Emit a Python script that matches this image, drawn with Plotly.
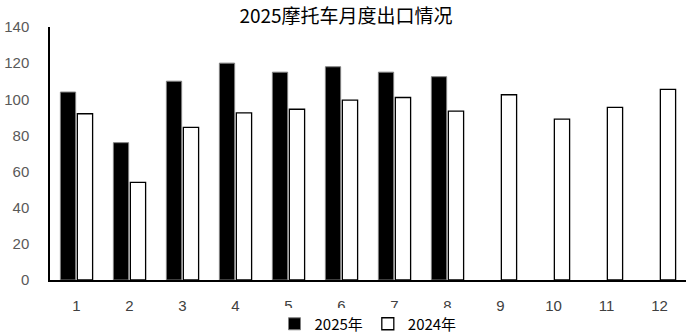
import plotly.graph_objects as go

months = ["1", "2", "3", "4", "5", "6", "7", "8", "9", "10", "11", "12"]
y2025 = [104, 76, 110, 120, 115, 118, 115, 112.5, None, None, None, None]
y2024 = [92, 54, 84.5, 92.5, 94.5, 99.5, 101, 93.5, 102.5, 89, 95.5, 105.5]
yticks = [0, 20, 40, 60, 80, 100, 120, 140]

fig = go.Figure()
fig.add_trace(go.Bar(x=months, y=y2025, name="2025年",
                     marker=dict(color="black", line=dict(color="#7f7f7f", width=1))))
fig.add_trace(go.Bar(x=months, y=y2024, name="2024年",
                     marker=dict(color="white", line=dict(color="black", width=1.3))))

font = "Liberation Sans, Noto Sans CJK SC, sans-serif"
fig.update_layout(
    width=692, height=335,
    margin=dict(l=50, r=6, t=27, b=55, autoexpand=False),
    paper_bgcolor="white", plot_bgcolor="white",
    barmode="group", bargap=0.36, bargroupgap=0.1,
    title=dict(text="2025摩托车月度出口情况", x=0.5, xanchor="center", y=0.95, yanchor="middle",
               font=dict(family="Noto Sans CJK SC, sans-serif", size=19, color="black")),
    showlegend=True,
    legend=dict(orientation="h", x=0.5, xanchor="center", y=-0.174, yanchor="middle",
                font=dict(family="Noto Sans CJK SC, sans-serif", size=15, color="black"),
                itemwidth=30, tracegroupgap=0),
    font=dict(family=font),
)
fig.update_xaxes(type="category", showline=True, linecolor="black", linewidth=1.5,
                 ticks="", tickfont=dict(size=15, color="#404040"), ticklabelstandoff=11)
fig.update_yaxes(range=[0, 140], tickvals=yticks, showgrid=False, zeroline=False,
                 showline=True, linecolor="black", linewidth=1.5, ticks="",
                 tickfont=dict(size=15, color="#595959"), ticklabelstandoff=16)

fig.write_html("out.html")
